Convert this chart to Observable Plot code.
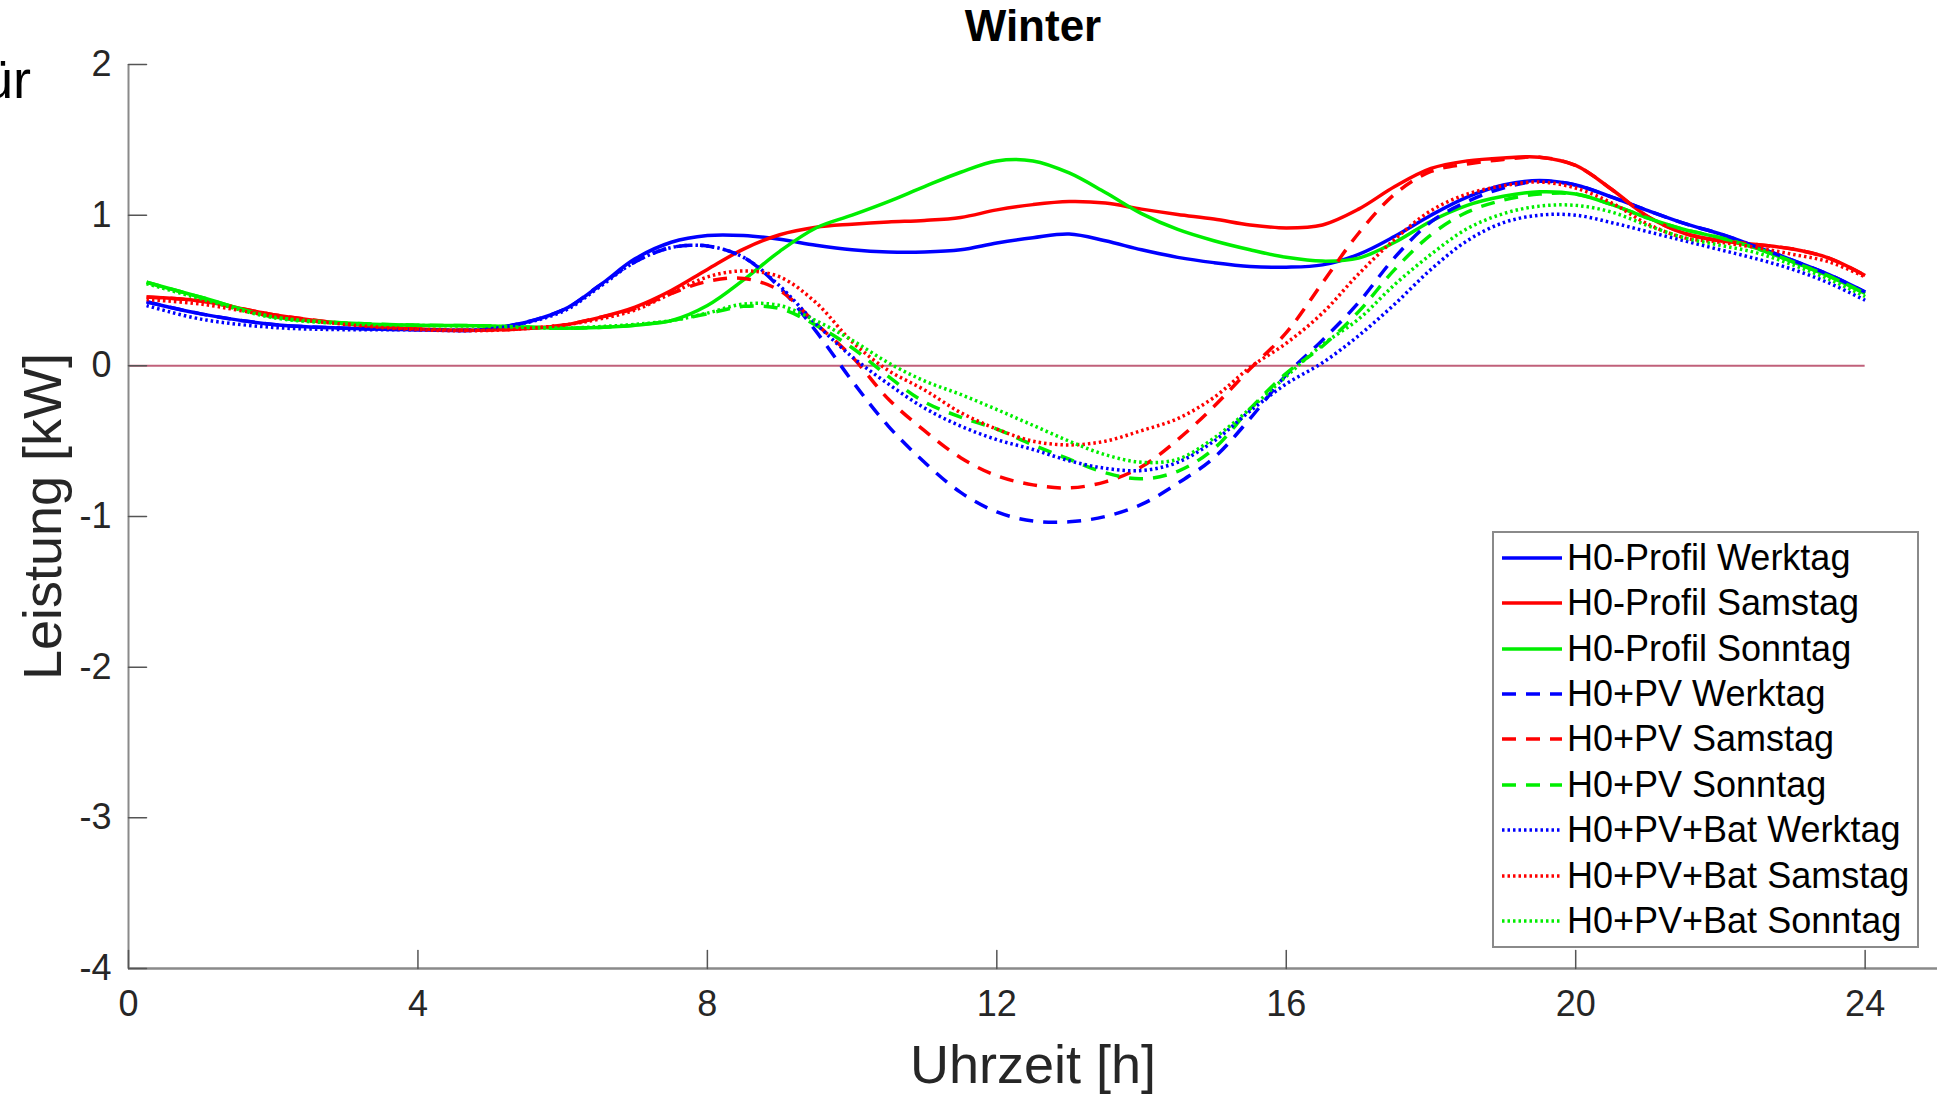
<!DOCTYPE html>
<html>
<head>
<meta charset="utf-8">
<script src="https://cdn.jsdelivr.net/npm/d3@7"></script>
<script src="https://cdn.jsdelivr.net/npm/@observablehq/plot@0.6"></script>
<style>
  html, body { margin: 0; padding: 0; background: #ffffff; }
  #wrap { position: relative; width: 1941px; height: 1095px; overflow: hidden; background: #fff;
          font-family: 'Liberation Sans', Arial, Helvetica, sans-serif; }
  #chart svg { display: block; }
  #frag { position: absolute; left: -32px; top: 52px; font-size: 54px; line-height: 1; color: #000; white-space: nowrap; }
  #legend { position: absolute; left: 1492px; top: 531px; width: 423px; height: 413px;
            border: 2px solid #8a8a8a; background: #fff; }
  .row { position: absolute; left: 0; height: 45px; display: flex; align-items: center; white-space: nowrap; }
  .row svg { display: block; margin-left: 8px; margin-right: 5px; }
  .row span { font-size: 36px; color: #000; line-height: 1; }
</style>
</head>
<body>
<div id="wrap">
  <div id="chart"></div>
  <div id="frag">für</div>
  <div id="legend"></div>
</div>
<script>
// ---------- data ----------
const hours = [0.25,1,2,3,4,5,6, 6.5,7,7.5,8,8.5,9,9.5,10, 10.5,11,11.5,12,12.5,13,13.5,14, 14.5,15,15.5,16,16.5,17,17.5,18, 18.5,19,19.5,20,20.5,21,21.5,22, 22.5,23,23.5,24];

const h0Werktag = [0.425,0.345,0.275,0.25,0.24,0.245,0.37, 0.53,0.71,0.82,0.865,0.865,0.84,0.80,0.77, 0.755,0.755,0.77,0.815,0.85,0.875,0.83,0.77, 0.72,0.685,0.66,0.655,0.67,0.74,0.86,1.0, 1.12,1.20,1.23,1.20,1.12,1.03,0.945,0.875, 0.79,0.70,0.605,0.49];
const h0Samstag = [0.457,0.43,0.34,0.28,0.245,0.237,0.27, 0.32,0.39,0.50,0.64,0.775,0.87,0.92,0.94, 0.955,0.965,0.985,1.035,1.07,1.09,1.08,1.04, 1.005,0.975,0.935,0.915,0.935,1.04,1.19,1.31, 1.36,1.38,1.385,1.33,1.17,0.99,0.88,0.83, 0.805,0.775,0.715,0.60];
const h0Sonntag = [0.555,0.455,0.325,0.285,0.27,0.265,0.25, 0.255,0.27,0.30,0.40,0.57,0.76,0.915,1.0, 1.09,1.19,1.285,1.36,1.36,1.28,1.15,1.01, 0.905,0.83,0.77,0.72,0.695,0.715,0.82,0.96, 1.065,1.125,1.155,1.14,1.07,0.98,0.905,0.85, 0.78,0.69,0.595,0.48];
const pvWerktag = [0.425,0.345,0.275,0.25,0.24,0.245,0.37, 0.53,0.69,0.785,0.795,0.72,0.52,0.23,-0.10, -0.40,-0.64,-0.84,-0.97,-1.03,-1.035,-1.0,-0.92, -0.78,-0.61,-0.35,-0.06,0.17,0.42,0.72,0.955, 1.09,1.18,1.225,1.20,1.12,1.03,0.945,0.875, 0.79,0.70,0.605,0.49];
const pvSamstag = [0.457,0.43,0.34,0.28,0.245,0.237,0.27, 0.32,0.38,0.48,0.56,0.58,0.50,0.28,0.06, -0.22,-0.43,-0.61,-0.73,-0.79,-0.81,-0.77,-0.67, -0.49,-0.27,-0.02,0.22,0.55,0.88,1.14,1.29, 1.34,1.37,1.385,1.33,1.17,0.99,0.88,0.83, 0.805,0.775,0.715,0.60];
const pvSonntag = [0.555,0.455,0.325,0.285,0.27,0.265,0.25, 0.255,0.27,0.30,0.345,0.395,0.38,0.27,0.12, -0.07,-0.24,-0.34,-0.42,-0.525,-0.62,-0.71,-0.75, -0.70,-0.55,-0.285,-0.05,0.13,0.36,0.64,0.87, 1.02,1.10,1.14,1.14,1.07,0.98,0.905,0.85, 0.78,0.69,0.595,0.48];
const batWerktag = [0.40,0.31,0.255,0.24,0.24,0.245,0.36, 0.52,0.69,0.785,0.795,0.72,0.53,0.28,0.06, -0.12,-0.28,-0.40,-0.49,-0.555,-0.63,-0.68,-0.695, -0.64,-0.50,-0.30,-0.12,0.02,0.20,0.41,0.64, 0.83,0.95,1.0,1.0,0.95,0.89,0.83,0.77, 0.71,0.64,0.55,0.435];
const batSamstag = [0.44,0.41,0.33,0.275,0.24,0.235,0.27, 0.31,0.37,0.48,0.59,0.63,0.59,0.42,0.16, -0.03,-0.16,-0.31,-0.42,-0.50,-0.525,-0.50,-0.43, -0.35,-0.21,-0.01,0.15,0.35,0.61,0.84,1.03, 1.14,1.195,1.22,1.18,1.08,0.94,0.85,0.82, 0.785,0.74,0.69,0.59];
const batSonntag = [0.545,0.445,0.32,0.28,0.268,0.262,0.25, 0.26,0.275,0.30,0.35,0.41,0.40,0.30,0.17, 0.02,-0.10,-0.19,-0.29,-0.395,-0.50,-0.59,-0.64, -0.62,-0.48,-0.285,-0.07,0.14,0.31,0.54,0.74, 0.91,1.01,1.06,1.065,1.02,0.93,0.85,0.80, 0.75,0.67,0.575,0.46];

const seriesNames = ["H0-Profil Werktag","H0-Profil Samstag","H0-Profil Sonntag","H0+PV Werktag","H0+PV Samstag","H0+PV Sonntag","H0+PV+Bat Werktag","H0+PV+Bat Samstag","H0+PV+Bat Sonntag"];
const seriesValues = [h0Werktag,h0Samstag,h0Sonntag,pvWerktag,pvSamstag,pvSonntag,batWerktag,batSamstag,batSonntag];

const xTickValues = [0,4,8,12,16,20,24];
const yTickValues = [-4,-3,-2,-1,0,1,2];
const zeroLine = [{value: 0, from: 0, to: 24}];

const titleText = "Winter";
const xLabelText = "Uhrzeit [h]";
const yLabelText = "Leistung [kW]";

// ---------- styles ----------
const seriesColors = ["#0000ff","#ff0000","#00ee00","#0000ff","#ff0000","#00ee00","#0000ff","#ff0000","#00ee00"];
const seriesDash = [null,null,null,"14,10","14,10","14,10","2.5,3","2.5,3","2.5,3"];
const axisColor = "#262626";

// ---------- chart ----------
const tickShape = { draw(context, l) { context.moveTo(0, 0); context.lineTo(0, -l); } };

const lineMarks = seriesValues.map((vals, i) => {
  const rows = hours.map((h, j) => ({h, v: vals[j]}));
  return Plot.line(rows, {
    x: "h", y: "v",
    stroke: seriesColors[i],
    strokeWidth: 3.5,
    strokeDasharray: seriesDash[i] || undefined,
    strokeLinecap: "butt",
    curve: "catmull-rom"
  });
});

const chart = Plot.plot({
  width: 1941,
  height: 1095,
  marginLeft: 128,
  marginRight: 4,
  marginTop: 64,
  marginBottom: 127,
  x: {domain: [0, 25], label: null},
  y: {domain: [-4, 2], label: null},
  style: {fontFamily: "'Liberation Sans', Arial, Helvetica, sans-serif", background: "#ffffff", color: axisColor},
  marks: [
    Plot.ruleY(zeroLine, {y: "value", x1: "from", x2: "to", stroke: "#c0607a", strokeWidth: 2}),
    ...lineMarks,
    Plot.ruleX([0], {stroke: "#8a8a8a", strokeWidth: 2}),
    Plot.ruleY([-4], {stroke: "#8a8a8a", strokeWidth: 2.5}),
    Plot.vector(xTickValues, {x: d => d, frameAnchor: "bottom", anchor: "start", length: 18, rotate: 0, shape: tickShape, stroke: "#555555", strokeWidth: 1.5}),
    Plot.vector(yTickValues, {y: d => d, frameAnchor: "left", anchor: "start", length: 18, rotate: 90, shape: tickShape, stroke: "#555555", strokeWidth: 1.5}),
    Plot.axisX(xTickValues, {tickSize: 0, tickPadding: 22, fontSize: 36, fill: axisColor, label: null, tickFormat: d => String(d)}),
    Plot.axisY(yTickValues, {tickSize: 0, tickPadding: 17, fontSize: 36, fill: axisColor, label: null, tickFormat: d => String(d)}),
    Plot.text([titleText], {text: d => d, frameAnchor: "top", lineAnchor: "middle", textAnchor: "middle", dy: -38, fontSize: 44, fontWeight: "bold", fill: "#000000"}),
    Plot.text([xLabelText], {text: d => d, frameAnchor: "bottom", lineAnchor: "middle", textAnchor: "middle", dy: 97, fontSize: 54, fill: axisColor}),
    Plot.text([yLabelText], {text: d => d, frameAnchor: "left", lineAnchor: "middle", textAnchor: "middle", dx: -85, rotate: -90, fontSize: 54, fill: axisColor})
  ]
});
document.getElementById("chart").appendChild(chart);

// ---------- legend ----------
const legend = document.getElementById("legend");
seriesNames.forEach((name, i) => {
  const row = document.createElement("div");
  row.className = "row";
  row.style.top = (2.3 + 45.4 * i) + "px";
  const dash = seriesDash[i] ? ` stroke-dasharray="${seriesDash[i]}"` : "";
  row.innerHTML = `<svg width="60" height="10"><line x1="0" y1="5" x2="60" y2="5" stroke="${seriesColors[i]}" stroke-width="3.5"${dash}/></svg><span>${name}</span>`;
  legend.appendChild(row);
});
</script>
</body>
</html>
